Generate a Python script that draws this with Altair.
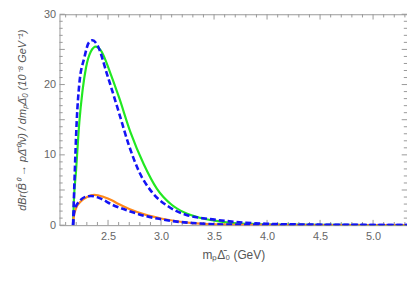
import altair as alt
import pandas as pd

# ---- data ----
green_x = [2.17, 2.178, 2.198, 2.229, 2.26, 2.292, 2.338, 2.385, 2.43, 2.525, 2.603, 2.712, 2.836, 2.96, 3.10, 3.22, 3.366, 3.52, 3.68, 3.9, 4.2, 4.6, 5.0, 5.32]
green_y = [0.0, 3.5, 7.7, 14.6, 19.2, 22.4, 24.7, 25.4, 24.9, 21.5, 18.2, 13.2, 8.7, 5.2, 2.9, 1.8, 1.05, 0.6, 0.3, 0.15, 0.07, 0.03, 0.01, 0.0]

blueA_x = [2.17, 2.185, 2.204, 2.229, 2.276, 2.32, 2.353, 2.40, 2.49, 2.603, 2.696, 2.79, 2.914, 3.07, 3.24, 3.44, 3.61, 3.80, 3.99, 4.3, 4.7, 5.0, 5.32]
blueA_y = [0.0, 7.0, 14.6, 20.1, 23.8, 26.0, 26.3, 25.6, 21.5, 16.0, 11.4, 7.7, 4.7, 2.65, 1.45, 0.9, 0.6, 0.35, 0.2, 0.1, 0.05, 0.03, 0.02]

orange_x = [2.17, 2.175, 2.198, 2.245, 2.307, 2.37, 2.46, 2.54, 2.60, 2.70, 2.85, 3.0, 3.15, 3.3, 3.5, 4.0, 4.5, 5.32]
orange_y = [0.0, 1.0, 2.4, 3.4, 4.05, 4.3, 4.0, 3.5, 3.0, 2.3, 1.5, 0.95, 0.55, 0.3, 0.12, 0.03, 0.01, 0.0]

blueB_x = [2.17, 2.175, 2.19, 2.23, 2.29, 2.34, 2.42, 2.54, 2.70, 2.85, 3.0, 3.15, 3.3, 3.6, 4.0, 4.5, 5.32]
blueB_y = [0.0, 1.2, 2.4, 3.4, 4.05, 4.15, 3.85, 2.9, 2.0, 1.3, 0.85, 0.5, 0.3, 0.1, 0.04, 0.02, 0.0]

x_major = [2.5, 3.0, 3.5, 4.0, 4.5, 5.0]
x_minor = [2.1, 2.2, 2.3, 2.4, 2.6, 2.7, 2.8, 2.9, 3.1, 3.2, 3.3, 3.4, 3.6, 3.7, 3.8, 3.9,
           4.1, 4.2, 4.3, 4.4, 4.6, 4.7, 4.8, 4.9, 5.1, 5.2, 5.3]
y_major = [0, 5, 10, 15, 20, 25, 30]
y_minor = [v for v in range(1, 30) if v % 5 != 0]

XMIN, XMAX = 2.042, 5.32
YMIN, YMAX = 0, 30

xs = alt.Scale(domain=[XMIN, XMAX], nice=False, zero=False)
ys = alt.Scale(domain=[YMIN, YMAX], nice=False)

x_axis = alt.Axis(values=x_major, format=".1f", domain=False, ticks=False, grid=False,
                  labelColor="#666", labelFontSize=11, labelPadding=6, labelFont="Liberation Sans",
                  title="mₚΔ̄₀ (GeV)", titleFont="Liberation Sans", titleFontSize=12,
                  titleFontWeight="normal", titleColor="#555", titlePadding=8)
y_axis = alt.Axis(values=y_major, format="d", domain=False, ticks=False, grid=False,
                  labelColor="#666", labelFontSize=11, labelPadding=4, labelFont="Liberation Sans",
                  title="dBr(B̄⁰ → pΔ̄⁰lν̄) / dmₚΔ̄₀ (10⁻⁸ GeV⁻¹)", titleFont="Liberation Sans",
                  titleFontSize=11, titleFontStyle="italic", titleFontWeight="normal",
                  titleColor="#555", titlePadding=16)


def curve(xv, yv, color, dash=None, width=2.0):
    df = pd.DataFrame({"x": xv, "y": yv})
    kw = dict(color=color, strokeWidth=width, interpolate="monotone", clip=True)
    if dash:
        kw["strokeDash"] = dash
    return alt.Chart(df).mark_line(**kw).encode(
        x=alt.X("x:Q", scale=xs, axis=x_axis),
        y=alt.Y("y:Q", scale=ys, axis=y_axis),
    )


def xticks(vals, length, top):
    df = pd.DataFrame({"t": vals})
    y0, y1 = (YMAX, YMAX - length) if top else (YMIN, YMIN + length)
    return alt.Chart(df).mark_rule(color="#999", strokeWidth=1).encode(
        x=alt.X("t:Q", scale=xs, axis=x_axis),
        y=alt.datum(y0, scale=ys), y2=alt.datum(y1))


def yticks(vals, length, right):
    df = pd.DataFrame({"t": vals})
    x0, x1 = (XMAX, XMAX - length) if right else (XMIN, XMIN + length)
    return alt.Chart(df).mark_rule(color="#999", strokeWidth=1).encode(
        y=alt.Y("t:Q", scale=ys, axis=y_axis),
        x=alt.datum(x0, scale=xs), x2=alt.datum(x1))


layers = [
    xticks(x_major, 0.75, False), xticks(x_minor, 0.45, False),
    xticks(x_major, 0.75, True), xticks(x_minor, 0.45, True),
    yticks(y_major, 0.05, False), yticks(y_minor, 0.03, False),
    yticks(y_major, 0.05, True), yticks(y_minor, 0.03, True),
    curve(green_x, green_y, "#22e822", width=2.2),
    curve(orange_x, orange_y, "#ff8a1c", width=2.2),
    curve(blueA_x, blueA_y, "#1414f5", dash=[6, 3], width=2.6),
    curve(blueB_x, blueB_y, "#1414f5", dash=[6, 3], width=2.6),
]

chart = alt.layer(*layers).properties(
    width=351, height=213,
    autosize=alt.AutoSizeParams(type="none"),
    padding={"left": 52, "top": 5, "right": 0, "bottom": 47},
    background="white",
).configure_view(stroke="#999", strokeWidth=1)

chart.save("out.html", embed_options={"renderer": "svg", "actions": False})
